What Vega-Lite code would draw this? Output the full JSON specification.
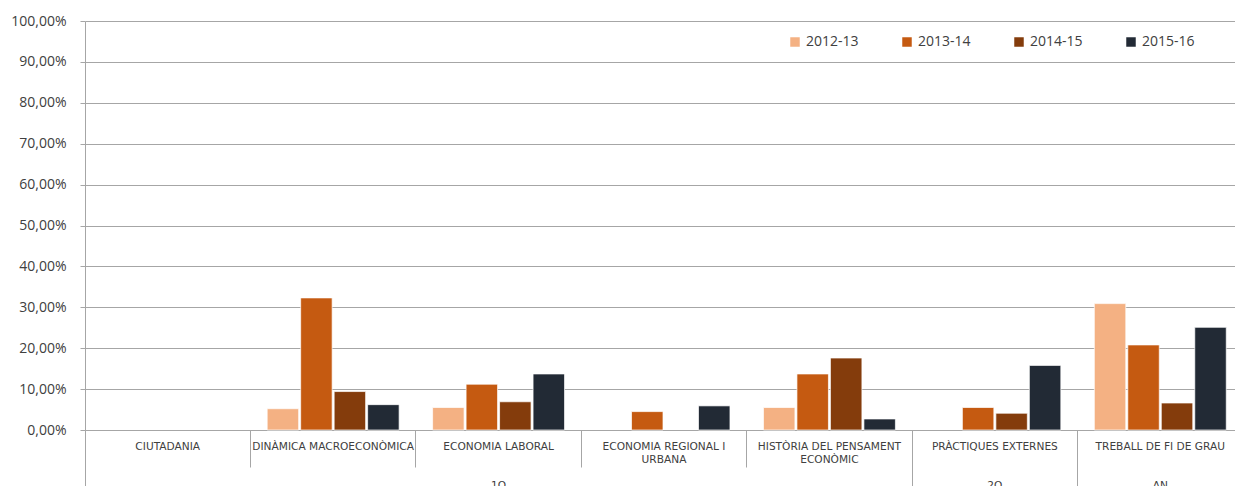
{
  "$schema": "https://vega.github.io/schema/vega-lite/v6.json",
  "width": 1158,
  "height": 409,
  "autosize": {"type": "none"},
  "padding": {"left": 85, "top": 21, "right": 0, "bottom": 56},
  "background": "#ffffff",
  "config": {
    "locale": {"number": {"decimal": ",", "thousands": ".", "grouping": [3], "currency": ["", " €"]}},
    "view": {"stroke": null},
    "font": "Open Sans"
  },
  "data": {
    "values": [
      {"assignatura": "DINÀMICA MACROECONÒMICA", "curs": "2012-13", "valor": 0.052},
      {"assignatura": "DINÀMICA MACROECONÒMICA", "curs": "2013-14", "valor": 0.323},
      {"assignatura": "DINÀMICA MACROECONÒMICA", "curs": "2014-15", "valor": 0.094},
      {"assignatura": "DINÀMICA MACROECONÒMICA", "curs": "2015-16", "valor": 0.062},
      {"assignatura": "ECONOMIA LABORAL", "curs": "2012-13", "valor": 0.055},
      {"assignatura": "ECONOMIA LABORAL", "curs": "2013-14", "valor": 0.112},
      {"assignatura": "ECONOMIA LABORAL", "curs": "2014-15", "valor": 0.069},
      {"assignatura": "ECONOMIA LABORAL", "curs": "2015-16", "valor": 0.137},
      {"assignatura": "ECONOMIA REGIONAL I URBANA", "curs": "2013-14", "valor": 0.045},
      {"assignatura": "ECONOMIA REGIONAL I URBANA", "curs": "2015-16", "valor": 0.059},
      {"assignatura": "HISTÒRIA DEL PENSAMENT ECONÒMIC", "curs": "2012-13", "valor": 0.055},
      {"assignatura": "HISTÒRIA DEL PENSAMENT ECONÒMIC", "curs": "2013-14", "valor": 0.137},
      {"assignatura": "HISTÒRIA DEL PENSAMENT ECONÒMIC", "curs": "2014-15", "valor": 0.176},
      {"assignatura": "HISTÒRIA DEL PENSAMENT ECONÒMIC", "curs": "2015-16", "valor": 0.027},
      {"assignatura": "PRÀCTIQUES EXTERNES", "curs": "2013-14", "valor": 0.055},
      {"assignatura": "PRÀCTIQUES EXTERNES", "curs": "2014-15", "valor": 0.041},
      {"assignatura": "PRÀCTIQUES EXTERNES", "curs": "2015-16", "valor": 0.158},
      {"assignatura": "TREBALL DE FI DE GRAU", "curs": "2012-13", "valor": 0.309},
      {"assignatura": "TREBALL DE FI DE GRAU", "curs": "2013-14", "valor": 0.208},
      {"assignatura": "TREBALL DE FI DE GRAU", "curs": "2014-15", "valor": 0.066},
      {"assignatura": "TREBALL DE FI DE GRAU", "curs": "2015-16", "valor": 0.251}
    ]
  },
  "mark": {"type": "bar", "stroke": "#ffffff", "strokeWidth": 0.7},
  "encoding": {
    "x": {
      "field": "assignatura",
      "type": "nominal",
      "sort": null,
      "scale": {
        "domain": ["CIUTADANIA", "DINÀMICA MACROECONÒMICA", "ECONOMIA LABORAL", "ECONOMIA REGIONAL I URBANA", "HISTÒRIA DEL PENSAMENT ECONÒMIC", "PRÀCTIQUES EXTERNES", "TREBALL DE FI DE GRAU"],
        "paddingInner": 0,
        "paddingOuter": 0
      },
      "axis": {
        "title": null,
        "labelAngle": 0,
        "bandPosition": 0,
        "labelAlign": "center",
        "labelBaseline": "top",
        "labelPadding": {"condition": {"test": "indexof(['CIUTADANIA', 'PRÀCTIQUES EXTERNES', 'TREBALL DE FI DE GRAU'], datum.value) >= 0", "value": -49}, "value": -26},
        "labelFont": "DejaVu Sans",
        "labelFontSize": 10.6,
        "labelColor": "#404040",
        "labelLimit": 220,
        "labelLineHeight": 13,
        "labelExpr": "datum.value == 'ECONOMIA REGIONAL I URBANA' ? ['ECONOMIA REGIONAL I', 'URBANA'] : datum.value == 'HISTÒRIA DEL PENSAMENT ECONÒMIC' ? ['HISTÒRIA DEL PENSAMENT', 'ECONÒMIC'] : datum.value == 'ECONOMIA LABORAL' ? ['ECONOMIA LABORAL', '\u200b', '\u200b', '1Q'] : datum.value == 'PRÀCTIQUES EXTERNES' ? ['PRÀCTIQUES EXTERNES', '\u200b', '\u200b', '2Q'] : datum.value == 'TREBALL DE FI DE GRAU' ? ['TREBALL DE FI DE GRAU', '\u200b', '\u200b', 'AN'] : datum.value",
        "tickSize": {"condition": {"test": "indexof(['CIUTADANIA', 'PRÀCTIQUES EXTERNES', 'TREBALL DE FI DE GRAU'], datum.value) >= 0", "value": 60}, "value": 37},
        "tickColor": "#A6A6A6",
        "tickWidth": 1,
        "domainColor": "#A6A6A6",
        "grid": false
      }
    },
    "xOffset": {
      "field": "curs",
      "type": "nominal",
      "scale": {"domain": ["2012-13", "2013-14", "2014-15", "2015-16"], "paddingInner": 0.06, "paddingOuter": 0.5}
    },
    "y": {
      "field": "valor",
      "type": "quantitative",
      "scale": {"domain": [0, 1]},
      "axis": {
        "title": null,
        "format": ".2%",
        "values": [0, 0.1, 0.2, 0.3, 0.4, 0.5, 0.6, 0.7, 0.8, 0.9, 1],
        "gridColor": "#A6A6A6",
        "gridWidth": 1,
        "tickColor": "#A6A6A6",
        "domainColor": "#A6A6A6",
        "tickSize": 5,
        "labelPadding": 14,
        "labelFont": "Open Sans",
        "labelFontSize": 14,
        "labelColor": "#404040"
      }
    },
    "color": {
      "field": "curs",
      "type": "nominal",
      "scale": {"domain": ["2012-13", "2013-14", "2014-15", "2015-16"], "range": ["#F4B183", "#C55A11", "#843C0C", "#222A35"]},
      "legend": {
        "title": null,
        "orient": "none",
        "legendX": 703,
        "legendY": 14,
        "direction": "horizontal",
        "symbolType": "square",
        "symbolSize": 90,
        "symbolStrokeWidth": 0,
        "labelFont": "Open Sans",
        "labelFontSize": 14,
        "labelColor": "#404040",
        "columnPadding": 41
      }
    }
  }
}
